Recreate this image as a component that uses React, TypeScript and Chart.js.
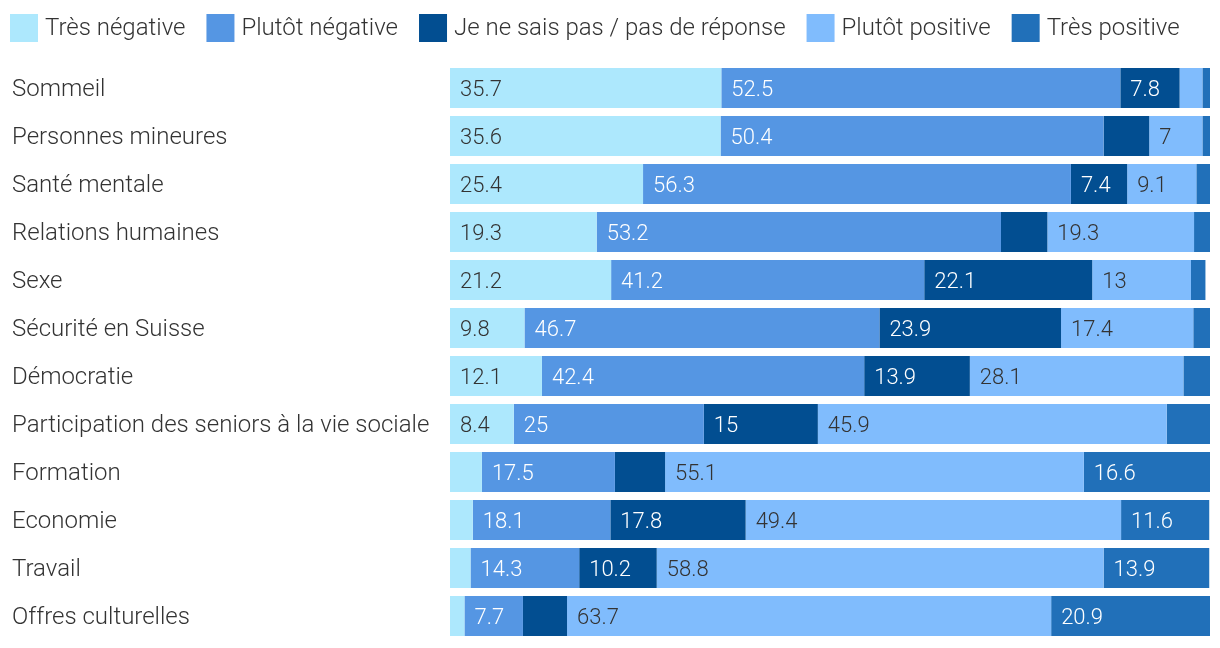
import React, { useEffect, useRef } from "react";
import { Chart, registerables } from "chart.js";

Chart.register(...registerables);

const categories = [
  "Sommeil",
  "Personnes mineures",
  "Santé mentale",
  "Relations humaines",
  "Sexe",
  "Sécurité en Suisse",
  "Démocratie",
  "Participation des seniors à la vie sociale",
  "Formation",
  "Economie",
  "Travail",
  "Offres culturelles",
];

const seriesNames = [
  "Très négative",
  "Plutôt négative",
  "Je ne sais pas / pas de réponse",
  "Plutôt positive",
  "Très positive",
];

const tresNegative = [35.7, 35.6, 25.4, 19.3, 21.2, 9.8, 12.1, 8.4, 4.2, 3.0, 2.7, 1.9];
const plutotNegative = [52.5, 50.4, 56.3, 53.2, 41.2, 46.7, 42.4, 25, 17.5, 18.1, 14.3, 7.7];
const nePasSavoir = [7.8, 6.0, 7.4, 6.1, 22.1, 23.9, 13.9, 15, 6.6, 17.8, 10.2, 5.8];
const plutotPositive = [3.0, 7, 9.1, 19.3, 13, 17.4, 28.1, 45.9, 55.1, 49.4, 58.8, 63.7];
const tresPositive = [1.0, 1.0, 1.8, 2.1, 1.9, 2.2, 3.5, 5.7, 16.6, 11.6, 13.9, 20.9];

const colors = ["#ADE8FD", "#5596E3", "#024E91", "#80BCFD", "#2170B9"];
const labelColors = ["#333333", "#ffffff", "#ffffff", "#333333", "#ffffff"];

const FONT = "Roboto";

const legendPlugin = {
  id: "customLegend",
  afterDraw(chart: any) {
    const ctx = chart.ctx;
    ctx.save();
    ctx.font = `300 24px ${FONT}`;
    ctx.textBaseline = "middle";
    ctx.textAlign = "left";
    let x = 10;
    const top = 14;
    const box = 28;
    chart.data.datasets.forEach((ds: any) => {
      ctx.fillStyle = ds.backgroundColor;
      ctx.fillRect(x, top, box, box);
      ctx.fillStyle = "#333333";
      const tx = x + box + 7;
      ctx.fillText(ds.label, tx, top + box / 2 + 1);
      x = tx + ctx.measureText(ds.label).width + 21;
    });
    ctx.restore();
  },
};

const valueLabelPlugin = {
  id: "valueLabels",
  afterDatasetsDraw(chart: any) {
    const ctx = chart.ctx;
    ctx.save();
    ctx.font = `300 22px ${FONT}`;
    ctx.textBaseline = "middle";
    ctx.textAlign = "left";
    chart.data.datasets.forEach((ds: any, di: number) => {
      const meta = chart.getDatasetMeta(di);
      meta.data.forEach((bar: any, i: number) => {
        const v = ds.data[i];
        if (v >= 7) {
          const left = Math.min(bar.x, bar.base);
          ctx.fillStyle = labelColors[di];
          ctx.fillText(String(v), left + 10, bar.y + 2);
        }
      });
    });
    ctx.restore();
  },
};

export default function App() {
  const canvasRef = useRef<HTMLCanvasElement>(null);

  useEffect(() => {
    if (!canvasRef.current) return;
    const seriesData = [tresNegative, plutotNegative, nePasSavoir, plutotPositive, tresPositive];
    const chart = new Chart(canvasRef.current, {
      type: "bar",
      data: {
        labels: categories,
        datasets: seriesNames.map((name, i) => ({
          label: name,
          data: seriesData[i],
          backgroundColor: colors[i],
          borderWidth: 0,
          categoryPercentage: 1,
          barPercentage: 40 / 48,
        })),
      },
      options: {
        indexAxis: "y",
        responsive: true,
        maintainAspectRatio: false,
        animation: false,
        layout: { padding: { top: 64, bottom: 8, left: 12, right: 10 } },
        plugins: {
          legend: { display: false },
          tooltip: { enabled: false },
        },
        scales: {
          x: {
            stacked: true,
            min: 0,
            max: 100,
            display: false,
          },
          y: {
            stacked: true,
            grid: { display: false },
            border: { display: false },
            afterFit: (scale: any) => {
              scale.width = 438;
              scale.paddingTop = 0;
              scale.paddingBottom = 0;
            },
            ticks: {
              crossAlign: "far",
              color: "#333333",
              font: { family: FONT, size: 24, weight: "300" as any },
              padding: 0,
              labelOffset: 2,
            },
          },
        },
      },
      plugins: [legendPlugin, valueLabelPlugin],
    });
    return () => chart.destroy();
  }, []);

  return (
    <div style={{ position: "absolute", left: 0, top: 0, width: 1220, height: 648, background: "#ffffff" }}>
      <canvas ref={canvasRef} />
    </div>
  );
}
